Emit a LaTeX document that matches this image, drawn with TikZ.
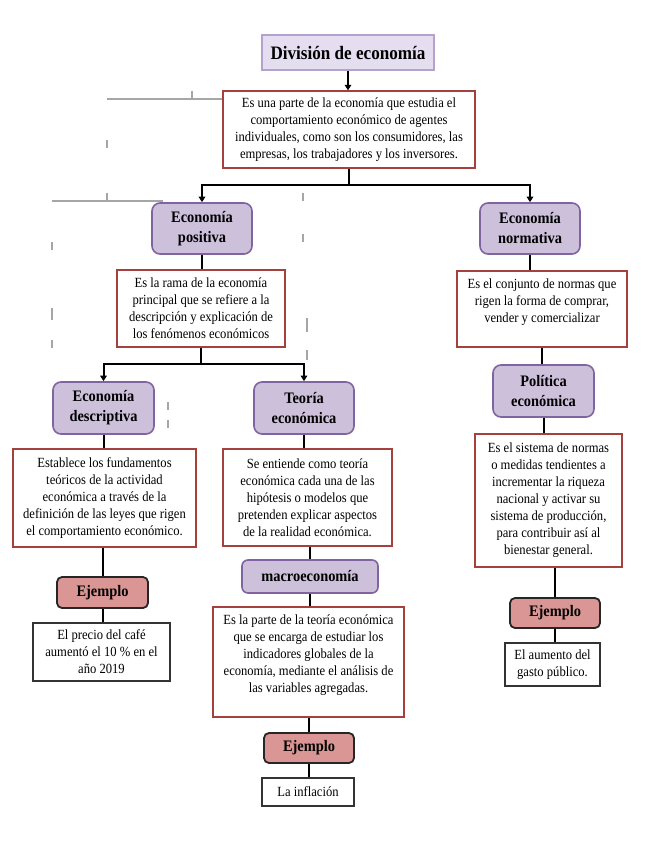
\documentclass[tikz,border=0pt]{standalone}
\usepackage{fontspec}
\setmainfont{Liberation Serif}
\newfontfamily\condserif[FakeStretch=0.9]{Liberation Serif}
\usetikzlibrary{arrows.meta}
\definecolor{lav}{HTML}{CCC0DA}
\definecolor{lavb}{HTML}{8064A2}
\definecolor{tfill}{HTML}{E5DDF0}
\definecolor{tborder}{HTML}{B4A2CC}
\definecolor{redb}{HTML}{A5403D}
\definecolor{ejfill}{HTML}{D99694}
\definecolor{art}{HTML}{A6A6A6}
\newcommand{\bodyfnt}{\condserif\fontsize{14}{17}\selectfont}
\newcommand{\labfnt}{\condserif\fontsize{16}{20}\selectfont\bfseries}
\newcommand{\titfnt}{\condserif\fontsize{19}{22}\selectfont\bfseries}
\begin{document}
\begin{tikzpicture}[x=1pt,y=-1pt,
  redbox/.style={draw=redb, line width=1.3pt, fill=white, align=center, font=\bodyfnt, inner sep=0pt},
  purp/.style={draw=lavb, fill=lav, line width=1.6pt, rounded corners=8pt, align=center, font=\labfnt, inner sep=0pt},
  ejbox/.style={draw=black!85, fill=ejfill, line width=1.8pt, rounded corners=5pt, font=\labfnt, inner sep=0pt},
  exbox/.style={draw=black!80, line width=1.2pt, fill=white, align=center, font=\bodyfnt, inner sep=0pt},
  conn/.style={line width=2pt},
  arr/.style={conn, -{Triangle[length=5.5pt,width=6.5pt]}},
  artline/.style={draw=art, line width=1.2pt}]
\fill[white] (0,0) rectangle (655,848);
\useasboundingbox (0,0) rectangle (655,848);

% faint guide artefacts
\draw[artline] (107,99) -- (223,99);
\draw[artline] (192,91) -- (192,99);
\draw[artline] (107,140) -- (107,148);
\draw[artline] (52,201) -- (163,201);
\draw[artline] (107,193) -- (107,201);
\draw[artline] (52,242) -- (52,250);
\draw[artline] (52,308) -- (52,320);
\draw[artline] (52,340) -- (52,348);
\draw[artline] (303,193) -- (303,201);
\draw[artline] (303,234) -- (303,242);
\draw[artline] (307,318) -- (307,332);
\draw[artline] (307,350) -- (307,360);
\draw[artline] (168,402) -- (168,410);
\draw[artline] (168,420) -- (168,428);

% nodes
\node[draw=tborder, fill=tfill, line width=1.5pt, minimum width=172pt, minimum height=35pt, inner sep=0pt,
      font=\titfnt] (title) at (348,52.5) {División de economía};
\node[redbox, minimum width=252pt, minimum height=77pt] (main) at (349,129.5)
  {Es una parte de la economía que estudia el\\ comportamiento económico de agentes\\ individuales, como son los consumidores, las\\ empresas, los trabajadores y los inversores.};
\node[purp, minimum width=100pt, minimum height=51pt] (pos) at (202,228.5) {Economía\\ positiva};
\node[purp, minimum width=100pt, minimum height=51pt] (norm) at (530,228.5) {Economía\\ normativa};
\node[redbox, minimum width=168pt, minimum height=77pt] (posdesc) at (201,308.5)
  {Es la rama de la economía\\ principal que se refiere a la\\ descripción y explicación de\\ los fenómenos económicos};
\node[purp, minimum width=101pt, minimum height=52pt] (desc) at (103.5,408) {Economía\\ descriptiva};
\node[purp, minimum width=100pt, minimum height=52pt] (teo) at (304,408) {Teoría\\ económica};
\node[redbox, minimum width=183pt, minimum height=98pt] (descdesc) at (104.5,498)
  {Establece los fundamentos\\ teóricos de la actividad\\ económica a través de la\\ definición de las leyes que rigen\\ el comportamiento económico.};
\node[redbox, minimum width=169pt, minimum height=97pt] (teodesc) at (307.5,497.5)
  {Se entiende como teoría\\ económica cada una de las\\ hipótesis o modelos que\\ pretenden explicar aspectos\\ de la realidad económica.};
\node[ejbox, minimum width=91pt, minimum height=31pt] (ej1) at (102.5,592.5) {Ejemplo};
\node[exbox, minimum width=137pt, minimum height=58pt] (ex1) at (101.5,652)
  {El precio del café\\ aumentó el 10 \% en el\\ año 2019};
\node[purp, rounded corners=6pt, minimum width=136pt, minimum height=33pt] (macro) at (310,576.5) {macroeconomía};
\node[redbox, minimum width=191pt, minimum height=110pt] (macrodesc) at (308.5,662)
  {Es la parte de la teoría económica\\ que se encarga de estudiar los\\ indicadores globales de la\\ economía, mediante el análisis de\\ las variables agregadas.\\ ~};
\node[ejbox, minimum width=90pt, minimum height=30pt] (ej2) at (309,748) {Ejemplo};
\node[exbox, minimum width=92pt, minimum height=28pt] (ex2) at (308,792) {La inflación};
\node[redbox, minimum width=170pt, minimum height=76pt] (normdesc) at (542,309)
  {Es el conjunto de normas que\\ rigen la forma de comprar,\\ vender y comercializar\\ ~};
\node[purp, minimum width=101pt, minimum height=52pt] (pol) at (543.5,391) {Política\\ económica};
\node[redbox, minimum width=147pt, minimum height=133pt] (poldesc) at (548.5,500.5)
  {Es el sistema de normas\\ o medidas tendientes a\\ incrementar la riqueza\\ nacional y activar su\\ sistema de producción,\\ para contribuir así al\\ bienestar general.};
\node[ejbox, minimum width=90pt, minimum height=30pt] (ej3) at (555,613) {Ejemplo};
\node[exbox, minimum width=95pt, minimum height=43pt] (ex3) at (552.5,664.5)
  {El aumento del\\ gasto público.};

% connectors
\draw[arr] (title.south) -- (title.south |- main.north);
\draw[arr] (main.south) -- ++(0,16) -| (pos.north);
\draw[arr] (main.south) -- ++(0,16) -| (norm.north);
\draw[conn] (pos.south) -- (pos.south |- posdesc.north);
\draw[arr] (posdesc.south) -- ++(0,16) -| (desc.north);
\draw[arr] (posdesc.south) -- ++(0,16) -| (teo.north);
\draw[conn] (desc.south) -- (desc.south |- descdesc.north);
\draw[conn] (teo.south) -- (teo.south |- teodesc.north);
\draw[conn] (descdesc.south -| ej1.north) -- (ej1.north);
\draw[conn] (ej1.south) -- (ej1.south |- ex1.north);
\draw[conn] (teodesc.south -| macro.north) -- (macro.north);
\draw[conn] (macro.south) -- (macro.south |- macrodesc.north);
\draw[conn] (macrodesc.south -| ej2.north) -- (ej2.north);
\draw[conn] (ej2.south) -- (ej2.south |- ex2.north);
\draw[conn] (norm.south) -- (norm.south |- normdesc.north);
\draw[conn] (normdesc.south) -- (normdesc.south |- pol.north);
\draw[conn] (pol.south) -- (pol.south |- poldesc.north);
\draw[conn] (poldesc.south -| ej3.north) -- (ej3.north);
\draw[conn] (ej3.south) -- (ej3.south |- ex3.north);
\end{tikzpicture}
\end{document}
